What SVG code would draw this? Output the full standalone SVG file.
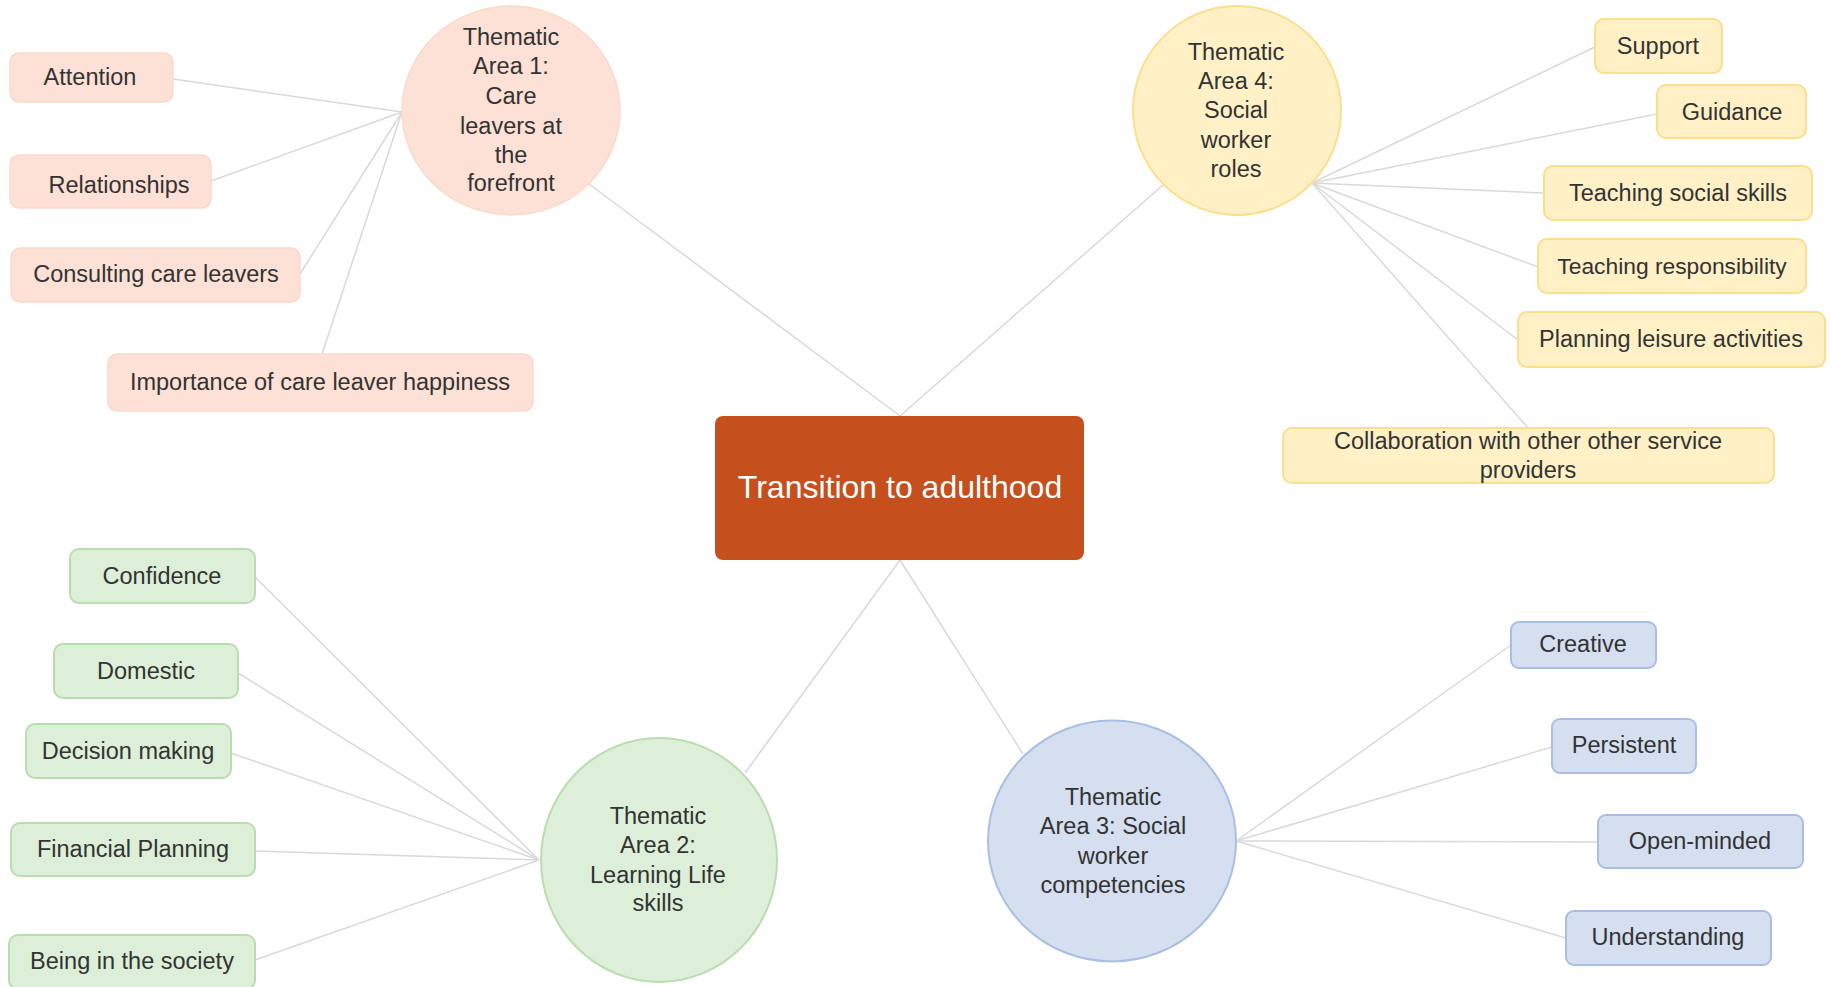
<svg xmlns="http://www.w3.org/2000/svg" width="1830" height="987" viewBox="0 0 1830 987">
<style>
text{font-family:"Liberation Sans",Arial,sans-serif;fill:#333;text-anchor:middle}
.lf{font-size:23.5px}
.c{font-size:23.5px}
.pk{fill:#FDE1D6;stroke:#FBDACB;stroke-width:1.5}
.yl{fill:#FFF0C6;stroke:#FDDE8C;stroke-width:2}
.gr{fill:#DDEFD8;stroke:#B9DDAE;stroke-width:2}
.bl{fill:#D5DFF0;stroke:#A8BFE3;stroke-width:2}
.ln{stroke:#D9D9D9;stroke-width:1.5;fill:none}
</style>
<g id="connectors" class="ln">
<line x1="589" y1="184" x2="900" y2="416"/>
<line x1="1163" y1="185" x2="900" y2="416"/>
<line x1="745" y1="773" x2="900" y2="560"/>
<line x1="1023" y1="754" x2="900" y2="560"/>
<line x1="173" y1="79" x2="402" y2="112"/>
<line x1="211" y1="181" x2="402" y2="112"/>
<line x1="300" y1="274" x2="402" y2="112"/>
<line x1="322" y1="354" x2="402" y2="112"/>
<line x1="1312" y1="183" x2="1595" y2="47"/>
<line x1="1312" y1="183" x2="1657" y2="114"/>
<line x1="1312" y1="183" x2="1544" y2="193"/>
<line x1="1312" y1="183" x2="1538" y2="267"/>
<line x1="1312" y1="183" x2="1518" y2="340"/>
<line x1="1312" y1="183" x2="1528" y2="428"/>
<line x1="539" y1="860" x2="255" y2="577"/>
<line x1="539" y1="860" x2="238" y2="673"/>
<line x1="539" y1="860" x2="231" y2="753"/>
<line x1="539" y1="860" x2="255" y2="851"/>
<line x1="539" y1="860" x2="255" y2="960"/>
<line x1="1236" y1="841" x2="1511" y2="645"/>
<line x1="1236" y1="841" x2="1552" y2="747"/>
<line x1="1236" y1="841" x2="1598" y2="842"/>
<line x1="1236" y1="841" x2="1566" y2="938"/>
</g>
<g id="center">
<rect x="715" y="416" width="369" height="144" rx="8" fill="#C5501E"/>
<text x="900" y="498" style="font-size:32px;fill:#fff">Transition to adulthood</text>
</g>
<g id="area1">
<ellipse cx="511" cy="110.5" rx="109" ry="104.5" class="pk"/>
<text class="c" x="511" y="45">Thematic</text>
<text class="c" x="511" y="74">Area 1:</text>
<text class="c" x="511" y="104">Care</text>
<text class="c" x="511" y="134">leavers at</text>
<text class="c" x="511" y="163">the</text>
<text class="c" x="511" y="191">forefront</text>
</g>
<g id="attention"><rect x="10" y="53" width="163" height="49" rx="9" class="pk"/><text class="lf" x="90" y="85">Attention</text></g>
<g id="relationships"><rect x="10" y="155" width="201" height="53" rx="9" class="pk"/><text class="lf" x="119" y="193">Relationships</text></g>
<g id="consulting"><rect x="11" y="248" width="289" height="54" rx="9" class="pk"/><text class="lf" x="156" y="282">Consulting care leavers</text></g>
<g id="importance"><rect x="108" y="354" width="425" height="57" rx="9" class="pk"/><text class="lf" x="320" y="390">Importance of care leaver happiness</text></g>
<g id="area4">
<ellipse cx="1237" cy="110.5" rx="104" ry="104.5" class="yl"/>
<text class="c" x="1236" y="60">Thematic</text>
<text class="c" x="1236" y="89">Area 4:</text>
<text class="c" x="1236" y="118">Social</text>
<text class="c" x="1236" y="148">worker</text>
<text class="c" x="1236" y="177">roles</text>
</g>
<g id="support"><rect x="1595" y="19" width="127" height="54" rx="9" class="yl"/><text class="lf" x="1658" y="54">Support</text></g>
<g id="guidance"><rect x="1657" y="85" width="149" height="53" rx="9" class="yl"/><text class="lf" x="1732" y="120">Guidance</text></g>
<g id="teachsocial"><rect x="1544" y="166" width="268" height="54" rx="9" class="yl"/><text class="lf" x="1678" y="201">Teaching social skills</text></g>
<g id="teachresp"><rect x="1538" y="239" width="268" height="54" rx="9" class="yl"/><text class="lf" x="1672" y="274" style="font-size:22.8px">Teaching responsibility</text></g>
<g id="planning"><rect x="1518" y="312" width="307" height="55" rx="9" class="yl"/><text class="lf" x="1671" y="347">Planning leisure activities</text></g>
<g id="collab"><rect x="1283" y="428" width="491" height="55" rx="9" class="yl"/><text class="lf" x="1528" y="449">Collaboration with other other service</text><text class="lf" x="1528" y="478">providers</text></g>
<g id="area2">
<ellipse cx="659" cy="860" rx="118" ry="122" class="gr"/>
<text class="c" x="658" y="824">Thematic</text>
<text class="c" x="658" y="853">Area 2:</text>
<text class="c" x="658" y="883">Learning Life</text>
<text class="c" x="658" y="911">skills</text>
</g>
<g id="confidence"><rect x="70" y="549" width="185" height="54" rx="9" class="gr"/><text class="lf" x="162" y="584">Confidence</text></g>
<g id="domestic"><rect x="54" y="644" width="184" height="54" rx="9" class="gr"/><text class="lf" x="146" y="679">Domestic</text></g>
<g id="decision"><rect x="26" y="724" width="205" height="54" rx="9" class="gr"/><text class="lf" x="128" y="759">Decision making</text></g>
<g id="financial"><rect x="11" y="823" width="244" height="53" rx="9" class="gr"/><text class="lf" x="133" y="857">Financial Planning</text></g>
<g id="being"><rect x="9" y="935" width="246" height="54" rx="9" class="gr"/><text class="lf" x="132" y="969">Being in the society</text></g>
<g id="area3">
<ellipse cx="1112" cy="841" rx="124" ry="120.5" class="bl"/>
<text class="c" x="1113" y="805">Thematic</text>
<text class="c" x="1113" y="834">Area 3: Social</text>
<text class="c" x="1113" y="864">worker</text>
<text class="c" x="1113" y="893">competencies</text>
</g>
<g id="creative"><rect x="1511" y="622" width="145" height="46" rx="8" class="bl"/><text class="lf" x="1583" y="652">Creative</text></g>
<g id="persistent"><rect x="1552" y="719" width="144" height="54" rx="8" class="bl"/><text class="lf" x="1624" y="753">Persistent</text></g>
<g id="openminded"><rect x="1598" y="815" width="205" height="53" rx="8" class="bl"/><text class="lf" x="1700" y="849">Open-minded</text></g>
<g id="understanding"><rect x="1566" y="911" width="205" height="54" rx="8" class="bl"/><text class="lf" x="1668" y="945">Understanding</text></g>
</svg>
